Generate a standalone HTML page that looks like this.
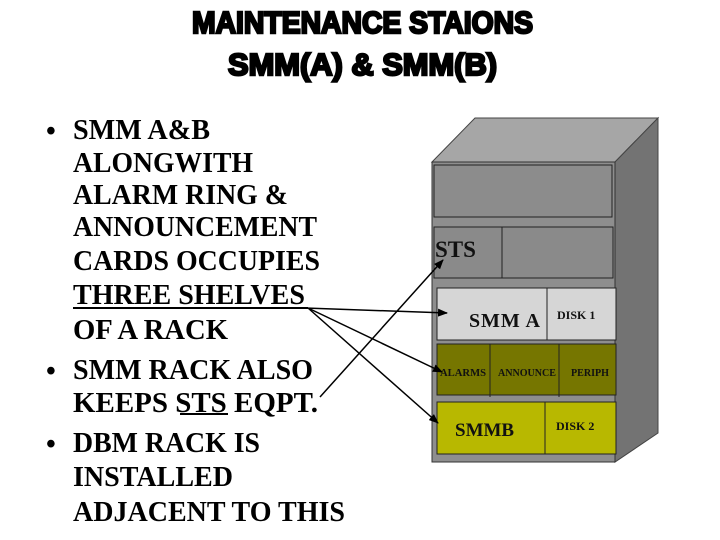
<!DOCTYPE html>
<html><head><meta charset="utf-8"><style>
html,body{margin:0;padding:0;background:#fff;width:720px;height:540px;overflow:hidden}
svg{display:block}
.t{font-family:"Liberation Serif",serif;font-weight:bold;font-size:28px;fill:#000}
.h{font-family:"Liberation Sans",sans-serif;font-weight:bold;font-size:31px;fill:#000;stroke:#000;stroke-width:2.4}
.r{font-family:"Liberation Serif",serif;font-weight:bold;fill:#111}
</style></head><body>
<svg width="720" height="540" viewBox="0 0 720 540" xmlns="http://www.w3.org/2000/svg">
<defs><marker id="a" markerWidth="10" markerHeight="8" refX="9" refY="4" orient="auto" markerUnits="userSpaceOnUse"><path d="M0,0 L10,4 L0,8 z" fill="#000"/></marker></defs>
<text class="h" x="192" y="33" textLength="341" lengthAdjust="spacingAndGlyphs">MAINTENANCE STAIONS</text>
<text class="h" x="228" y="75" textLength="269" lengthAdjust="spacingAndGlyphs">SMM(A) &amp; SMM(B)</text>

<polygon points="432,162 475,118 658,118 615,162" fill="#a6a6a6" stroke="#444" stroke-width="1"/>
<polygon points="615,162 658,118 658,433 615,462" fill="#737373" stroke="#444" stroke-width="1"/>
<rect x="432" y="162" width="183" height="300" fill="#8e8e8e" stroke="#333" stroke-width="1"/>
<rect x="434" y="165" width="178" height="52" fill="#8c8c8c" stroke="#222" stroke-width="1"/>
<rect x="434" y="227" width="179" height="51" fill="#8a8a8a" stroke="#222" stroke-width="1"/>
<line x1="502" y1="227" x2="502" y2="278" stroke="#222"/>
<rect x="437" y="288" width="179" height="52" fill="#d6d6d6" stroke="#222" stroke-width="1"/>
<line x1="547" y1="288" x2="547" y2="340" stroke="#222"/>
<rect x="437" y="344" width="179" height="51" fill="#767600" stroke="#222" stroke-width="1"/>
<line x1="490" y1="344" x2="490" y2="397" stroke="#222"/>
<line x1="559" y1="344" x2="559" y2="397" stroke="#222"/>
<rect x="437" y="402" width="179" height="52" fill="#b8b800" stroke="#222" stroke-width="1"/>
<line x1="545" y1="402" x2="545" y2="454" stroke="#222"/>

<text class="r" x="435" y="257" font-size="23">STS</text>
<text class="r" x="469" y="327" font-size="20" textLength="71" lengthAdjust="spacing">SMM  A</text>
<text class="r" x="557" y="319" font-size="12">DISK 1</text>
<text class="r" x="440" y="376" font-size="10" textLength="46" lengthAdjust="spacingAndGlyphs">ALARMS</text>
<text class="r" x="498" y="376" font-size="10" textLength="58" lengthAdjust="spacingAndGlyphs">ANNOUNCE</text>
<text class="r" x="571" y="376" font-size="10" textLength="38" lengthAdjust="spacingAndGlyphs">PERIPH</text>
<text class="r" x="455" y="436" font-size="19">SMMB</text>
<text class="r" x="556" y="430" font-size="12">DISK 2</text>

<g class="t">
<text x="46" y="140" font-size="28">•</text>
<text x="46" y="380" font-size="28">•</text>
<text x="46" y="453" font-size="28">•</text>
<text x="73" y="139" textLength="137" lengthAdjust="spacingAndGlyphs">SMM A&amp;B</text>
<text x="73" y="172" textLength="180" lengthAdjust="spacingAndGlyphs">ALONGWITH</text>
<text x="73" y="204" textLength="215" lengthAdjust="spacingAndGlyphs">ALARM RING &amp;</text>
<text x="73" y="236" textLength="244" lengthAdjust="spacingAndGlyphs">ANNOUNCEMENT</text>
<text x="73" y="270" textLength="247" lengthAdjust="spacingAndGlyphs">CARDS OCCUPIES</text>
<text x="73" y="304" textLength="232" lengthAdjust="spacingAndGlyphs">THREE SHELVES</text>
<text x="73" y="339" textLength="155" lengthAdjust="spacingAndGlyphs">OF A RACK</text>
<text x="73" y="379" textLength="240" lengthAdjust="spacingAndGlyphs">SMM RACK ALSO</text>
<text x="73" y="412" textLength="245" lengthAdjust="spacingAndGlyphs">KEEPS  STS EQPT.</text>
<text x="73" y="452" textLength="187" lengthAdjust="spacingAndGlyphs">DBM RACK IS</text>
<text x="73" y="486" textLength="160" lengthAdjust="spacingAndGlyphs">INSTALLED</text>
<text x="73" y="521" textLength="272" lengthAdjust="spacingAndGlyphs">ADJACENT TO THIS</text>
</g>
<line x1="73" y1="308" x2="308" y2="308" stroke="#000" stroke-width="2"/>
<line x1="180" y1="414" x2="228" y2="414" stroke="#000" stroke-width="2"/>

<g stroke="#000" stroke-width="1.5" fill="none">
<line x1="305" y1="308" x2="447" y2="313" marker-end="url(#a)"/>
<line x1="308" y1="308" x2="442" y2="372" marker-end="url(#a)"/>
<line x1="308" y1="308" x2="438" y2="423" marker-end="url(#a)"/>
<line x1="320" y1="397" x2="443" y2="260" marker-end="url(#a)"/>
</g>
</svg>
</body></html>
